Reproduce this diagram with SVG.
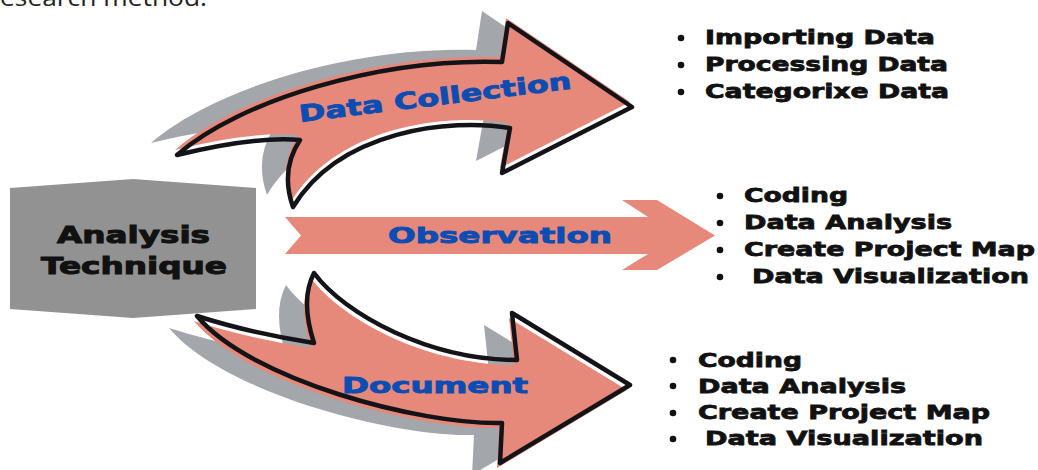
<svg xmlns="http://www.w3.org/2000/svg" xmlns:xlink="http://www.w3.org/1999/xlink" width="1038" height="470" viewBox="0 0 1038 470">
  <style>
    .shadow { fill: #a3a6ab; }
    .body { fill: #e6897a; }
    .outline { fill: none; stroke: #141418; stroke-width: 4.5; stroke-linejoin: round; }
    .lbl { font-family: "DejaVu Sans", "Liberation Sans", sans-serif; font-weight: bold; fill: #0b4db3; stroke: #0b4db3; stroke-width: 0.9; }
    .title { font-family: "DejaVu Sans", "Liberation Sans", sans-serif; font-weight: bold; font-size: 23px; fill: #111; stroke: #111; stroke-width: 1; }
    .item { font-family: "DejaVu Sans", "Liberation Sans", sans-serif; font-weight: bold; font-size: 20px; fill: #111; stroke: #111; stroke-width: 0.8; }
    .dot { fill: #111; }
  </style>
  <defs>
    <!-- curved arrow bending upward -->
    <path id="arrowUp" d="M177,155 C240,100 380,58 502,62 L508,23 L632,107 L502,173 L510,128 C450,118 340,130 293,207 Q280,170 300,140 Q255,136 177,155 Z"/>
    <!-- curved arrow bending downward -->
    <path id="arrowDown" d="M197,316 Q250,333 314,343 Q300,300 314,273 C345,315 430,360 517,360 L512,313 L630,385 L500,463 L502,423 C420,425 250,380 197,316 Z"/>
  </defs>

  <!-- heading line, clipped at the top edge -->
  <text x="0" y="6" font-family="Open Sans, Liberation Sans, sans-serif" font-size="24" fill="#222" textLength="207" lengthAdjust="spacingAndGlyphs">esearch method.</text>

  <!-- source block -->
  <g id="analysis-technique">
    <polygon points="10,188 133,179 256,188 256,309 133,318 10,309" fill="#929292"/>
    <text class="title" x="57" y="243" textLength="153" lengthAdjust="spacingAndGlyphs">Analysis</text>
    <text class="title" x="41" y="274" textLength="186" lengthAdjust="spacingAndGlyphs">Technique</text>
  </g>

  <g id="connectors">
    <g id="data-collection">
      <use xlink:href="#arrowUp" class="shadow" transform="translate(-26,-12)"/>
      <use xlink:href="#arrowUp" class="body" transform="translate(-2,-5)"/>
      <use xlink:href="#arrowUp" class="outline"/>
      <text class="lbl" font-size="23" transform="translate(300,122) rotate(-7)" textLength="274" lengthAdjust="spacingAndGlyphs">Data Collection</text>
    </g>
    <g id="observation">
      <polygon class="body" points="285,217 648,217 622,200 657,200 715,235.5 657,270 622,270 648,254 285,254 301,235.5"/>
      <text class="lbl" font-size="22" x="388" y="243" textLength="224" lengthAdjust="spacingAndGlyphs">Observation</text>
    </g>
    <g id="document">
      <use xlink:href="#arrowDown" class="shadow" transform="translate(-28,12)"/>
      <use xlink:href="#arrowDown" class="body" transform="translate(-3,5)"/>
      <use xlink:href="#arrowDown" class="outline"/>
      <text class="lbl" font-size="22" x="342" y="393" textLength="186" lengthAdjust="spacingAndGlyphs">Document</text>
    </g>
  </g>

  <g id="list-collection">
    <circle class="dot" cx="681" cy="38" r="3.3"/>
    <circle class="dot" cx="681" cy="65" r="3.3"/>
    <circle class="dot" cx="681" cy="92" r="3.3"/>
    <text class="item" x="705" y="44" textLength="230" lengthAdjust="spacingAndGlyphs">Importing Data</text>
    <text class="item" x="705" y="71" textLength="243" lengthAdjust="spacingAndGlyphs">Processing Data</text>
    <text class="item" x="705" y="98" textLength="244" lengthAdjust="spacingAndGlyphs">Categorixe Data</text>
  </g>

  <g id="list-observation">
    <circle class="dot" cx="720" cy="196" r="3.3"/>
    <circle class="dot" cx="720" cy="223" r="3.3"/>
    <circle class="dot" cx="720" cy="250" r="3.3"/>
    <circle class="dot" cx="720" cy="277" r="3.3"/>
    <text class="item" x="744" y="202" textLength="104" lengthAdjust="spacingAndGlyphs">Coding</text>
    <text class="item" x="744" y="229" textLength="208" lengthAdjust="spacingAndGlyphs">Data Analysis</text>
    <text class="item" x="744" y="256" textLength="291" lengthAdjust="spacingAndGlyphs">Create Project Map</text>
    <text class="item" x="752" y="283" textLength="277" lengthAdjust="spacingAndGlyphs">Data Visualization</text>
  </g>

  <g id="list-document">
    <circle class="dot" cx="673" cy="360" r="3.3"/>
    <circle class="dot" cx="673" cy="386" r="3.3"/>
    <circle class="dot" cx="673" cy="413" r="3.3"/>
    <circle class="dot" cx="673" cy="439" r="3.3"/>
    <text class="item" x="698" y="367" textLength="104" lengthAdjust="spacingAndGlyphs">Coding</text>
    <text class="item" x="698" y="393" textLength="208" lengthAdjust="spacingAndGlyphs">Data Analysis</text>
    <text class="item" x="698" y="419" textLength="292" lengthAdjust="spacingAndGlyphs">Create Project Map</text>
    <text class="item" x="705" y="445" textLength="278" lengthAdjust="spacingAndGlyphs">Data Visualization</text>
  </g>
</svg>
